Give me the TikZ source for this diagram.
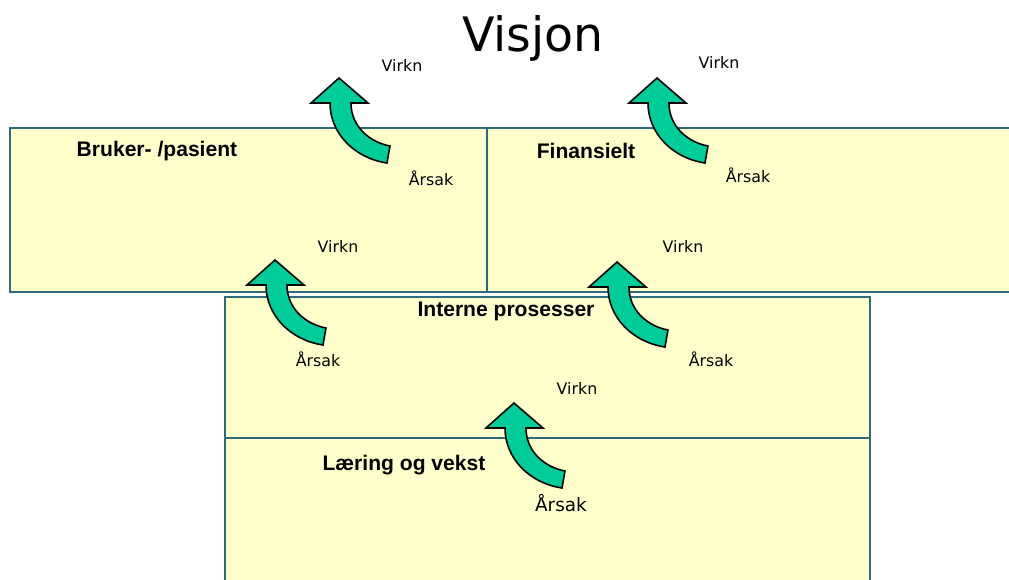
\documentclass[tikz,border=0pt]{standalone}
\usepackage{fontspec}
\setmainfont{DejaVu Sans}
\newfontfamily\headfont{Liberation Sans}
\usepackage{xcolor}
\usepackage{tikz}
\usetikzlibrary{positioning,calc}
\definecolor{boxfill}{HTML}{FFFFCC}
\definecolor{boxline}{HTML}{306A7E}
\definecolor{arrowfill}{HTML}{00CC99}
\tikzset{
  persp/.style={rectangle, draw=boxline, line width=1.6pt, fill=boxfill},
  head/.style={font=\headfont\fontsize{12}{14}\selectfont\bfseries, inner sep=1pt},
  lbl/.style={font=\fontsize{9}{11}\selectfont, inner sep=1pt},
  curvarrow/.pic={
    \filldraw[fill=arrowfill, draw=black, line width=0.9pt, line join=miter]
      (0,0) -- (29,25) -- (12,25)
      .. controls (12,48) and (30,64) .. (51,68)
      -- (48,85)
      .. controls (15,80) and (-9,55) .. (-9,25)
      -- (-28,25) -- cycle;
  },
}
\begin{document}
\begin{tikzpicture}[x=0.02cm, y=-0.02cm]
\useasboundingbox (0,0) rectangle (1009,579);
% perspektivene
\draw[persp] (10,128) rectangle (487,292);
\draw[persp] (487,128) rectangle (1030,292);
\draw[persp] (225,297) rectangle (870,438);
\draw[persp] (225,438) rectangle (870,600);
\node[font=\fontsize{27}{32}\selectfont] (visjon) at (533,38) {Visjon};
\node[head] (bruker) at (157,151) {Bruker- /pasient};
\node[head] (finans) at (586,151) {Finansielt};
\node[head] (interne) at (506,311) {Interne prosesser};
\node[head] (laering) at (404,465) {Læring og vekst};
% årsak -> virkning
\pic at (339,78) {curvarrow};
\pic at (657,78) {curvarrow};
\pic at (275,260) {curvarrow};
\pic at (617,262) {curvarrow};
\pic at (514,403) {curvarrow};
\node[lbl] (virkn1) at (402,65) {Virkn};
\node[lbl] (virkn2) at (719,62) {Virkn};
\node[lbl] (virkn3) at (338,246) {Virkn};
\node[lbl] (virkn4) at (683,246) {Virkn};
\node[lbl] (virkn5) at (577,388) {Virkn};
\node[lbl] (arsak1) at (431,178) {Årsak};
\node[lbl] (arsak2) at (748,175) {Årsak};
\node[lbl] (arsak3) at (318,359) {Årsak};
\node[lbl] (arsak4) at (711,359) {Årsak};
\node[lbl, font=\fontsize{10.5}{12}\selectfont] (arsak5) at (561,503) {Årsak};
\end{tikzpicture}
\end{document}
